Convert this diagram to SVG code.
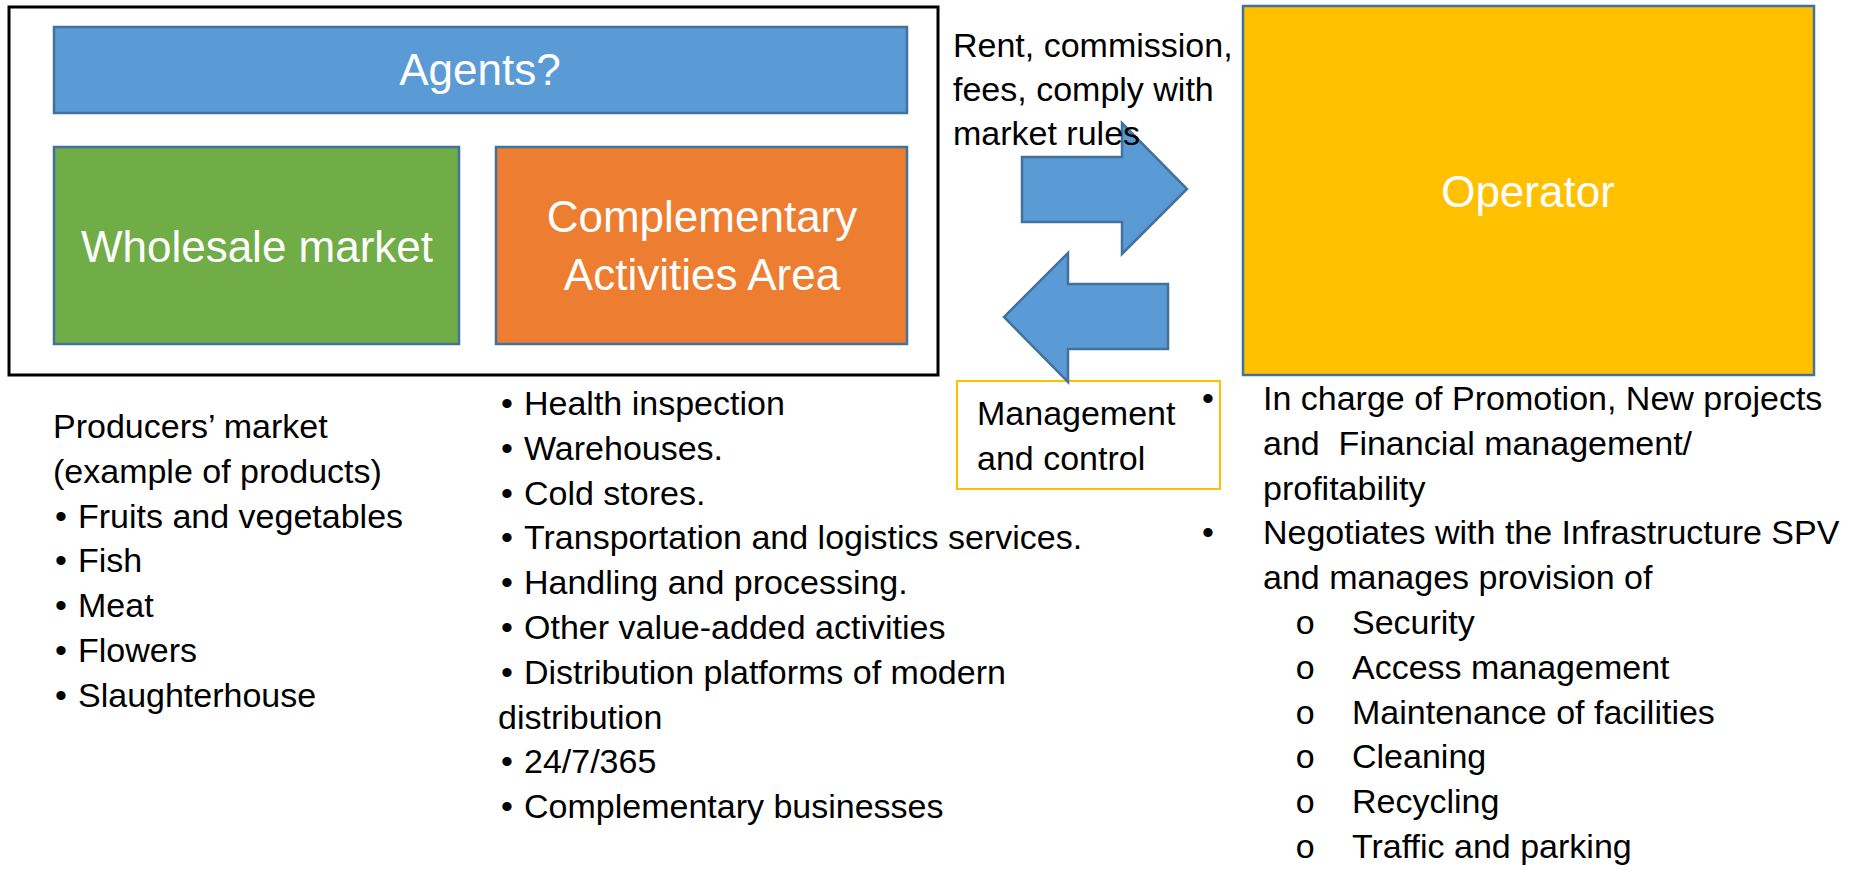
<svg xmlns="http://www.w3.org/2000/svg" width="1850" height="870" viewBox="0 0 1850 870">
<style>
  .bg { fill: #ffffff; }
  .shape { stroke: #41719C; stroke-width: 2.5; }
  .lbl { font-family: "Liberation Sans", Arial, sans-serif; font-size: 44px; fill: #ffffff; text-anchor: middle; }
  .txt { font-family: "Liberation Sans", Arial, sans-serif; font-size: 34px; fill: #000000; }
  .sub { font-family: "Liberation Mono", "Courier New", monospace; font-size: 34px; fill: #000000; }
  .arrow { fill: #5B9BD5; stroke: #41719C; stroke-width: 2.5; stroke-linejoin: miter; }
</style>
<rect class="bg" x="0" y="0" width="1850" height="870"/>

<g id="market-frame">
  <rect x="9" y="7" width="929" height="368" fill="#ffffff" stroke="#000000" stroke-width="3"/>
</g>

<g id="agents">
  <rect class="shape" x="54" y="27" width="853" height="86" fill="#5B9BD5"/>
  <text class="lbl" x="480" y="85">Agents?</text>
</g>

<g id="wholesale-market">
  <rect class="shape" x="54" y="147" width="405" height="197" fill="#70AD47"/>
  <text class="lbl" x="257" y="262">Wholesale market</text>
</g>

<g id="complementary-area">
  <rect class="shape" x="496" y="147" width="411" height="197" fill="#ED7D31"/>
  <text class="lbl" x="702" y="232">Complementary</text>
  <text class="lbl" x="702" y="290">Activities Area</text>
</g>

<g id="operator">
  <rect class="shape" x="1243" y="6" width="571" height="369" fill="#FFC000"/>
  <text class="lbl" x="1528" y="207">Operator</text>
</g>

<g id="management-box">
  <rect x="957" y="381" width="263" height="108" fill="#ffffff" stroke="#FFC000" stroke-width="2"/>
  <text class="txt" x="977" y="425">Management</text>
  <text class="txt" x="977" y="470">and control</text>
</g>

<g id="connectors">
  <polygon class="arrow" points="1022,157 1122,157 1122,123 1187,189 1122,254 1122,222 1022,222"/>
  <polygon class="arrow" points="1168,284 1068,284 1068,253 1004,317 1068,382 1068,349 1168,349"/>
</g>

<g id="payments-label">
  <text class="txt" x="953" y="57">Rent, commission,</text>
  <text class="txt" x="953" y="101">fees, comply with</text>
  <text class="txt" x="953" y="145">market rules</text>
</g>

<g id="producers-list">
  <text class="txt" x="53" y="438">Producers’ market</text>
  <text class="txt" x="53" y="483">(example of products)</text>
  <text class="txt" y="528"><tspan x="55">•</tspan><tspan x="78">Fruits and vegetables</tspan></text>
  <text class="txt" y="572"><tspan x="55">•</tspan><tspan x="78">Fish</tspan></text>
  <text class="txt" y="617"><tspan x="55">•</tspan><tspan x="78">Meat</tspan></text>
  <text class="txt" y="662"><tspan x="55">•</tspan><tspan x="78">Flowers</tspan></text>
  <text class="txt" y="707"><tspan x="55">•</tspan><tspan x="78">Slaughterhouse</tspan></text>
</g>

<g id="complementary-list">
  <text class="txt" y="415"><tspan x="501">•</tspan><tspan x="524">Health inspection</tspan></text>
  <text class="txt" y="460"><tspan x="501">•</tspan><tspan x="524">Warehouses.</tspan></text>
  <text class="txt" y="505"><tspan x="501">•</tspan><tspan x="524">Cold stores.</tspan></text>
  <text class="txt" y="549"><tspan x="501">•</tspan><tspan x="524">Transportation and logistics services.</tspan></text>
  <text class="txt" y="594"><tspan x="501">•</tspan><tspan x="524">Handling and processing.</tspan></text>
  <text class="txt" y="639"><tspan x="501">•</tspan><tspan x="524">Other value-added activities</tspan></text>
  <text class="txt" y="684"><tspan x="501">•</tspan><tspan x="524">Distribution platforms of modern</tspan></text>
  <text class="txt" x="498" y="729">distribution</text>
  <text class="txt" y="773"><tspan x="501">•</tspan><tspan x="524">24/7/365</tspan></text>
  <text class="txt" y="818"><tspan x="501">•</tspan><tspan x="524">Complementary businesses</tspan></text>
</g>

<g id="operator-list">
  <text class="txt" y="410"><tspan x="1202">•</tspan><tspan x="1263">In charge of Promotion, New projects</tspan></text>
  <text class="txt" x="1263" y="455" xml:space="preserve">and  Financial management/</text>
  <text class="txt" x="1263" y="500">profitability</text>
  <text class="txt" y="544"><tspan x="1202">•</tspan><tspan x="1263">Negotiates with the Infrastructure SPV</tspan></text>
  <text class="txt" x="1263" y="589">and manages provision of</text>
  <text class="sub" x="1295" y="634">o</text><text class="txt" x="1352" y="634">Security</text>
  <text class="sub" x="1295" y="679">o</text><text class="txt" x="1352" y="679">Access management</text>
  <text class="sub" x="1295" y="724">o</text><text class="txt" x="1352" y="724">Maintenance of facilities</text>
  <text class="sub" x="1295" y="768">o</text><text class="txt" x="1352" y="768">Cleaning</text>
  <text class="sub" x="1295" y="813">o</text><text class="txt" x="1352" y="813">Recycling</text>
  <text class="sub" x="1295" y="858">o</text><text class="txt" x="1352" y="858">Traffic and parking</text>
</g>
</svg>
